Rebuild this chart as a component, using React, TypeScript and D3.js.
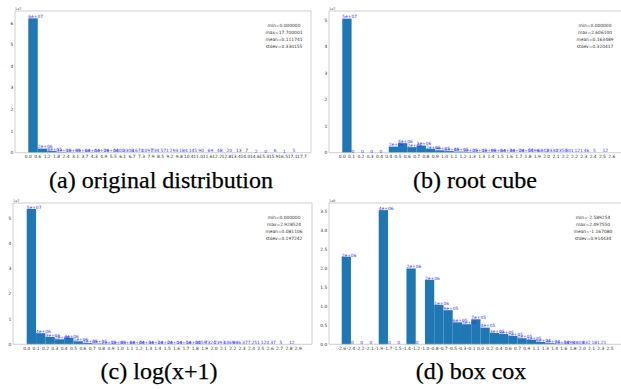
import React from 'react';
import * as d3 from 'd3';

// ---------- data ----------
const aTicks = ["0.0","0.6","1.2","1.8","2.4","3.1","3.7","4.3","4.9","5.5","6.1","6.7","7.3","7.9","8.5","9.2","9.8","10.4","11.0","11.6","12.2","12.8","13.4","14.0","14.6","15.3","15.9","16.5","17.1","17.7"];
const aCounts = [62300000, 1900000, 760000, 290000, 130000, 88000, 62000, 41000, 16000, 5600, 3308, 1670, 1097, 734, 571, 293, 184, 145, 90, 69, 48, 20, 13, 7, 2, 0, 6, 1, 5];
const aStats = ["min=0.000000","max=17.700001","mean=0.111741","stdev=0.330155"];
const aYTicks = [0,1,2,3,4,5,6];

const bTicks = ["0.0","0.1","0.2","0.3","0.4","0.4","0.5","0.6","0.7","0.8","0.9","1.0","1.1","1.2","1.3","1.3","1.4","1.5","1.6","1.7","1.8","1.9","2.0","2.1","2.2","2.2","2.3","2.4","2.5","2.6"];
const bCounts = [50600000, 0, 0, 0, 0, 2300000, 3600000, 2100000, 2700000, 1500000, 900000, 600000, 420000, 290000, 200000, 140000, 90000, 60000, 30000, 15000, 5596, 6842, 8330, 2354, 301, 121, 46, 5, 12];
const bStats = ["min=0.000000","max=2.606100","mean=0.163489","stdev=0.320417"];
const bYTicks = [0,1,2,3,4,5];

const cTicks = ["0.0","0.1","0.2","0.3","0.4","0.5","0.6","0.7","0.8","0.9","1.0","1.1","1.2","1.3","1.4","1.5","1.6","1.7","1.8","1.9","2.0","2.1","2.2","2.3","2.4","2.5","2.6","2.7","2.8","2.9"];
const cCounts = [53700000, 4400000, 2900000, 2000000, 2600000, 1200000, 500000, 300000, 200000, 130000, 80000, 60000, 40000, 30000, 20000, 15000, 11000, 10000, 3059, 7324, 2393, 1469, 886, 377, 251, 120, 37, 5, 12];
const cStats = ["min=0.000000","max=2.928524","mean=0.081106","stdev=0.197242"];
const cYTicks = [0,1,2,3,4,5];

const dTicks = ["-2.6","-2.4","-2.2","-2.1","-1.9","-1.7","-1.5","-1.4","-1.2","-1.0","-0.8","-0.7","-0.5","-0.3","-0.1","0.0","0.2","0.4","0.6","0.7","0.9","1.1","1.3","1.4","1.6","1.8","2.0","2.1","2.3","2.5"];
const dCounts = [2310000, 0, 0, 0, 3540000, 0, 0, 2000000, 0, 1700000, 1040000, 900000, 580000, 530000, 660000, 440000, 300000, 270000, 220000, 160000, 120000, 60000, 30000, 15000, 5898, 4804, 832, 181, 21];
const dStats = ["min=-2.589254","max=2.497550","mean=-1.167080","stdev=0.914434"];
const dYTicks = [0,0.5,1,1.5,2,2.5,3,3.5];

const captions = ["(a) original distribution", "(b) root cube", "(c) log(x+1)", "(d) box cox"];

// ---------- layout ----------
type Panel = {
  ticks: string[]; counts: number[]; stats: string[]; yTicks: number[];
  scale: number; offsetLabel: string; yFmt: (v: number) => string;
  left: number; top: number; right: number; bottom: number;
  x0: number; x1: number; yPerUnit: number; statsX: number; statsY: number;
  caption: string; capX: number; capY: number;
};

const fmtInt = (v: number) => String(v);
const fmt1 = (v: number) => v.toFixed(1);

const panels: Panel[] = [
  { ticks: aTicks, counts: aCounts, stats: aStats, yTicks: aYTicks, scale: 1e7, offsetLabel: "1e7", yFmt: fmtInt,
    left: 15, top: 11, right: 311, bottom: 152.7, x0: 28.3, x1: 302, yPerUnit: 21.57, statsX: 284, statsY: 25,
    caption: captions[0], capX: 161, capY: 188 },
  { ticks: bTicks, counts: bCounts, stats: bStats, yTicks: bYTicks, scale: 1e7, offsetLabel: "1e7", yFmt: fmtInt,
    left: 329, top: 11, right: 625, bottom: 152.7, x0: 342.3, x1: 611.7, yPerUnit: 26.5, statsX: 595, statsY: 25,
    caption: captions[1], capX: 475, capY: 188 },
  { ticks: cTicks, counts: cCounts, stats: cStats, yTicks: cYTicks, scale: 1e7, offsetLabel: "1e7", yFmt: fmtInt,
    left: 13, top: 203, right: 312, bottom: 344.3, x0: 26.7, x1: 298.3, yPerUnit: 25.2, statsX: 284, statsY: 217.3,
    caption: captions[2], capX: 159, capY: 378.5 },
  { ticks: dTicks, counts: dCounts, stats: dStats, yTicks: dYTicks, scale: 1e6, offsetLabel: "1e6", yFmt: fmt1,
    left: 329, top: 203, right: 624, bottom: 344.3, x0: 341.7, x1: 610, yPerUnit: 37.9, statsX: 593, statsY: 217.3,
    caption: captions[3], capX: 471, capY: 378.5 },
];

function countLabel(v: number): string {
  if (v >= 10000) {
    const e = Math.floor(Math.log10(v));
    let m = Math.round(v / Math.pow(10, e));
    let ee = e;
    if (m >= 10) { m = 1; ee += 1; }
    return `${m}e+${String(ee).padStart(2, "0")}`;
  }
  return String(Math.round(v));
}

const SANS = "'DejaVu Sans', sans-serif";
const SERIF = "'Liberation Serif', 'Times New Roman', Times, serif";
const FS = 4.4;
const BAR = "#1f77b4";
const SPINE = "#c4c4c4";

function PanelView({ p }: { p: Panel }) {
  const n = p.counts.length;
  const x = d3.scaleLinear().domain([0, n]).range([p.x0, p.x1]);
  const yMax = (p.bottom - p.top) / p.yPerUnit;
  const y = d3.scaleLinear().domain([0, yMax]).range([p.bottom, p.top]);
  const right = Math.min(p.right, 621);
  return (
    <g>
      {p.counts.map((c, i) => (
        <rect key={"b" + i} x={x(i)} y={y(c / p.scale)} width={x(i + 1) - x(i)} height={p.bottom - y(c / p.scale)} fill={BAR} />
      ))}
      <line x1={p.left} x2={right} y1={p.top} y2={p.top} stroke={SPINE} strokeWidth={0.8} />
      <line x1={p.left} x2={right} y1={p.bottom} y2={p.bottom} stroke={SPINE} strokeWidth={0.8} />
      <line x1={p.left} x2={p.left} y1={p.top} y2={p.bottom} stroke={SPINE} strokeWidth={0.8} />
      {p.right <= 621 && <line x1={p.right} x2={p.right} y1={p.top} y2={p.bottom} stroke={SPINE} strokeWidth={0.8} />}
      {p.yTicks.map((t) => (
        <text key={"y" + t} x={p.left - 1.8} y={y(t) + 1.5} fontSize={FS} fontFamily={SANS} fill="#333" textAnchor="end">{p.yFmt(t)}</text>
      ))}
      <text x={p.left} y={p.top - 1} fontSize={3.4} fontFamily={SANS} fill="#555">{p.offsetLabel}</text>
      {p.ticks.map((t, i) => (
        <text key={"x" + i} x={x(i)} y={p.bottom + 5.3} fontSize={FS} fontFamily={SANS} fill="#333" textAnchor="middle">{t}</text>
      ))}
      {p.counts.map((c, i) => (
        <text key={"c" + i} x={x(i)} y={y(c / p.scale) - 0.2} fontSize={FS} fontFamily={SANS} fill="#3333ff">{countLabel(c)}</text>
      ))}
      {p.stats.map((s, i) => (
        <text key={"s" + i} x={p.statsX} y={p.statsY + 1.5 + i * 7.1} fontSize={FS} fontFamily={SANS} fill="#333" textAnchor="middle">{s}</text>
      ))}
      <text x={p.capX} y={p.capY} fontSize={24} fontFamily={SERIF} fill="#000" stroke="#000" strokeWidth={0.25} textAnchor="middle">{p.caption}</text>
    </g>
  );
}

export default function App() {
  return (
    <svg width={621} height={389} style={{ position: "absolute", left: 0, top: 0, background: "#fff" }}>
      <rect x={0} y={0} width={621} height={389} fill="#fff" />
      {panels.map((p, i) => <PanelView key={i} p={p} />)}
    </svg>
  );
}
